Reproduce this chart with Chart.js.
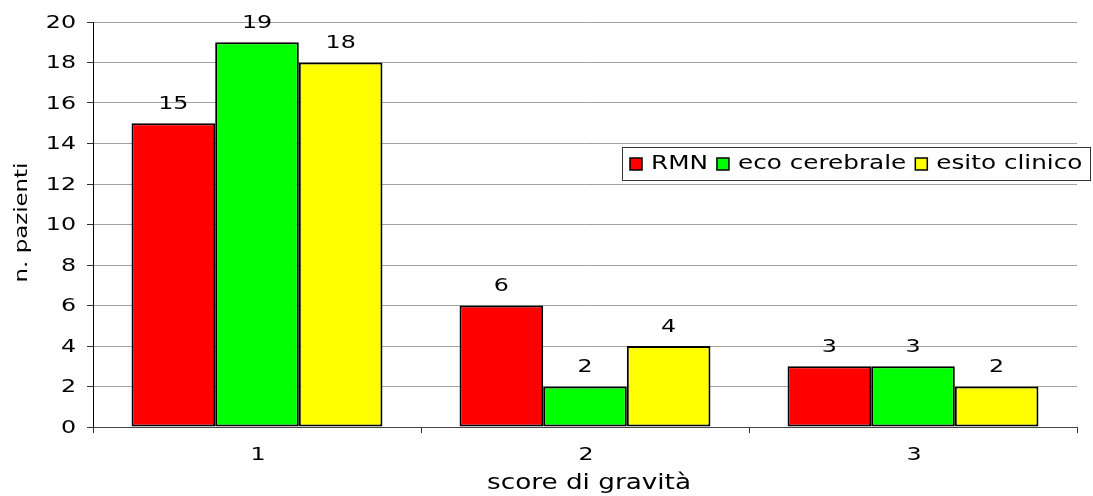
<!DOCTYPE html>
<html>
<head>
<meta charset="utf-8">
<script src="https://cdn.jsdelivr.net/npm/chart.js@4/dist/chart.umd.min.js"></script>
<style>
  html, body { margin: 0; padding: 0; background: #fff; overflow: hidden; }
</style>
</head>
<body>
<canvas id="c" width="1093" height="496"></canvas>
<script>
// score di gravità categories
const categories = ['1', '2', '3'];

// number of patients per score, one list per method
const rmn = [15, 6, 3];
const ecoCerebrale = [19, 2, 3];
const esitoClinico = [18, 4, 2];

const seriesNames = ['RMN', 'eco cerebrale', 'esito clinico'];
const seriesColors = ['#FF0000', '#00FF00', '#FFFF00'];

// value axis range and step
const yMin = 0;
const yMax = 20;
const yStep = 2;

const xTitle = 'score di gravità';
const yTitle = 'n. pazienti';

const FONT = '"DejaVu Sans", Verdana, sans-serif';

// text in this chart uses a broad, horizontally widened letterform
function wideText(ctx, text, x, y, size, stretch, align, angle) {
  ctx.save();
  ctx.translate(x, y);
  if (angle) ctx.rotate(angle);
  ctx.scale(stretch, 1);
  ctx.font = size + 'px ' + FONT;
  ctx.fillStyle = '#000';
  ctx.textAlign = align;
  ctx.textBaseline = 'middle';
  ctx.fillText(text, 0, 0);
  const w = ctx.measureText(text).width * stretch;
  ctx.restore();
  return w;
}

// tick labels of both axes, placed from the scales' own tick positions
const tickLabels = {
  id: 'tickLabels',
  afterDraw(chart) {
    const ctx = chart.ctx;
    const ys = chart.scales.y;
    ys.ticks.forEach((t, i) => {
      wideText(ctx, String(t.value), 76, ys.getPixelForTick(i) + 1, 18, 1.32, 'right');
    });
    const xs = chart.scales.x;
    xs.ticks.forEach((t, i) => {
      wideText(ctx, xs.getLabelForValue(t.value), xs.getPixelForTick(i) + 1, 455.5, 18, 1.32, 'center');
    });
  }
};

// numbers written above each bar
const valueLabels = {
  id: 'valueLabels',
  afterDatasetsDraw(chart) {
    const ctx = chart.ctx;
    chart.data.datasets.forEach((ds, i) => {
      chart.getDatasetMeta(i).data.forEach((bar, j) => {
        wideText(ctx, String(ds.data[j]), bar.x, bar.y - 19, 18, 1.32, 'center');
      });
    });
  }
};

// axis titles
const axisTitles = {
  id: 'axisTitles',
  afterDraw(chart) {
    const ctx = chart.ctx;
    const area = chart.chartArea;
    wideText(ctx, xTitle, (area.left + area.right) / 2 + 4, 484, 21, 1.25, 'center');
    wideText(ctx, yTitle, 22, (area.top + area.bottom) / 2 - 2, 18, 1.27, 'center', -Math.PI / 2);
  }
};

// boxed horizontal legend laid over the plot area
const boxLegend = {
  id: 'boxLegend',
  afterDraw(chart) {
    const ctx = chart.ctx;
    const left = 622.5, top = 147.5, width = 468, height = 33;
    ctx.save();
    ctx.fillStyle = '#fff';
    ctx.fillRect(left, top, width, height);
    ctx.strokeStyle = '#333';
    ctx.lineWidth = 1;
    ctx.strokeRect(left, top, width, height);
    ctx.restore();
    const cy = 164;
    let x = left + 7.5;
    chart.data.datasets.forEach((ds) => {
      ctx.save();
      ctx.fillStyle = ds.backgroundColor;
      ctx.fillRect(x, cy - 6, 12, 12);
      ctx.strokeStyle = '#000';
      ctx.lineWidth = 1.5;
      ctx.strokeRect(x, cy - 6, 12, 12);
      ctx.restore();
      x += 21;
      x += wideText(ctx, ds.label, x, cy, 19, 1.3, 'left') + 9;
    });
  }
};

const seriesValues = [rmn, ecoCerebrale, esitoClinico];

new Chart(document.getElementById('c'), {
  type: 'bar',
  data: {
    labels: categories,
    datasets: seriesValues.map((vals, i) => ({
      label: seriesNames[i],
      data: vals,
      backgroundColor: seriesColors[i],
      borderColor: '#000',
      borderWidth: 2,
      borderSkipped: false,
      barPercentage: 1.0,
      categoryPercentage: 0.765
    }))
  },
  options: {
    responsive: false,
    animation: false,
    devicePixelRatio: 1,
    layout: { padding: { top: 22, right: 16, left: 0, bottom: 0 } },
    plugins: {
      legend: { display: false },
      tooltip: { enabled: false }
    },
    scales: {
      x: {
        grid: { display: true, drawOnChartArea: false, drawTicks: true, offset: true, tickLength: 6, tickColor: '#333' },
        border: { display: true, color: '#444', width: 1 },
        ticks: { display: false },
        afterFit(scale) { scale.height = 69; }
      },
      y: {
        min: yMin,
        max: yMax,
        grid: { color: '#a0a0a0', lineWidth: 1, drawTicks: true, tickLength: 6, tickColor: '#333' },
        border: { display: true, color: '#000', width: 1 },
        ticks: { display: false, stepSize: yStep },
        afterFit(scale) { scale.width = 93; }
      }
    }
  },
  plugins: [valueLabels, tickLabels, axisTitles, boxLegend]
});
</script>
</body>
</html>
